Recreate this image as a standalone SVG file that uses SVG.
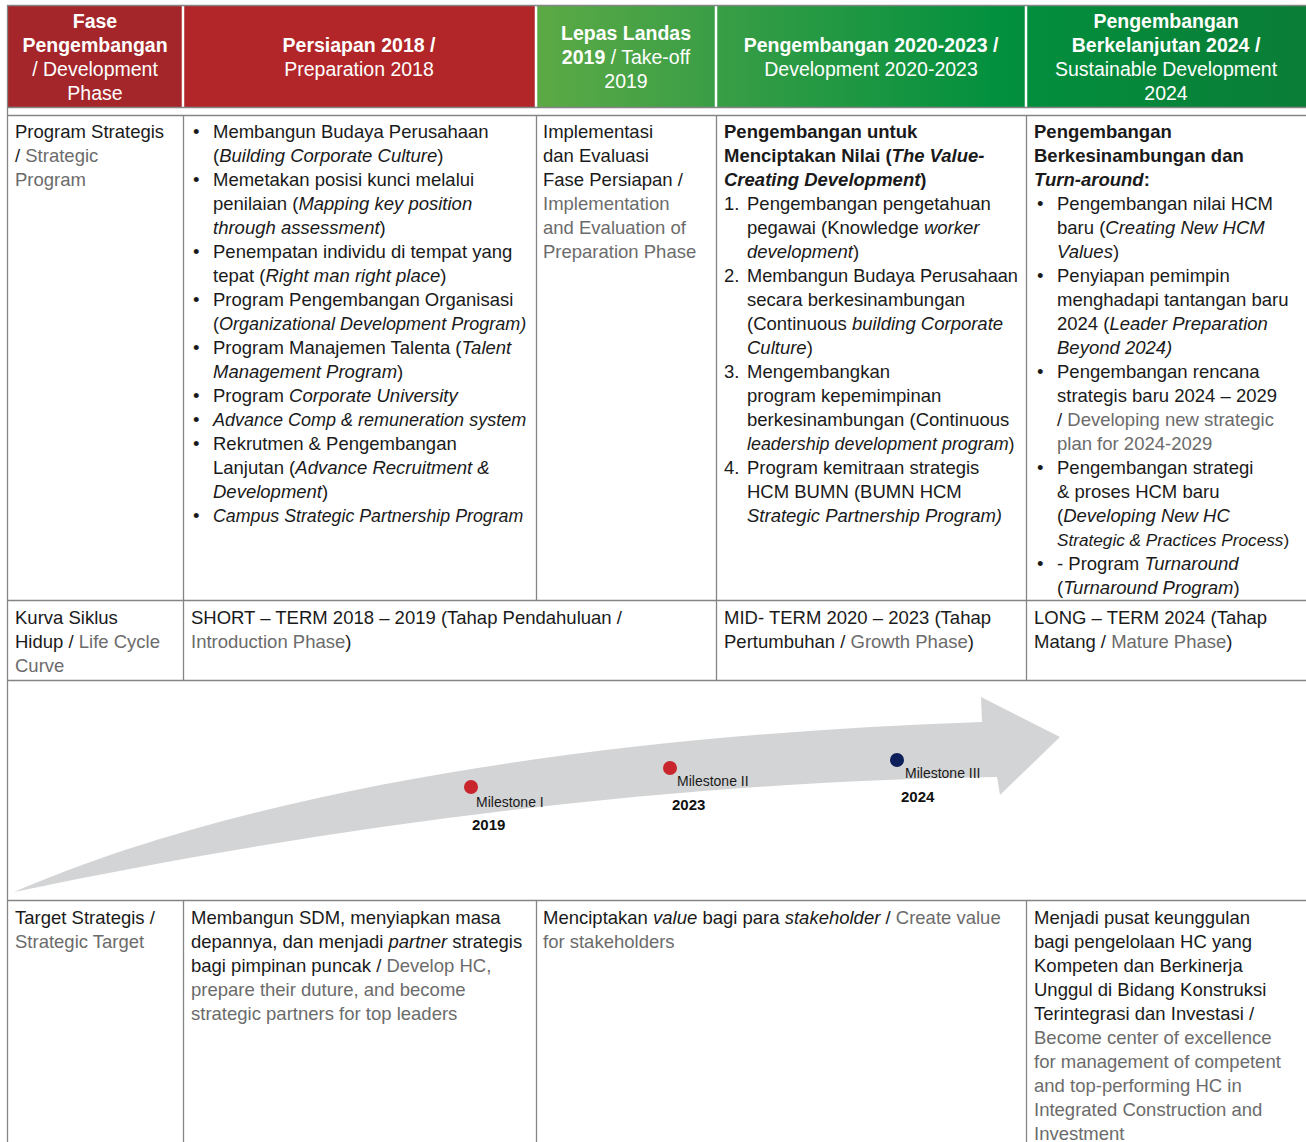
<svg xmlns="http://www.w3.org/2000/svg" width="1306" height="1142" viewBox="0 0 1306 1142">
<style>
.t{font-family:"Liberation Sans",Arial,sans-serif;font-size:18.5px;fill:#1a1a1a}
.g{fill:#6b6b6b}
.i{font-style:italic}
.b{font-weight:bold}
.h{font-family:"Liberation Sans",Arial,sans-serif;font-size:19.5px;fill:#ffffff;text-anchor:middle}
.m{font-family:"Liberation Sans",Arial,sans-serif;font-size:14px;fill:#1a1a1a}
.y{font-family:"Liberation Sans",Arial,sans-serif;font-size:15px;font-weight:bold;fill:#111}
.ln{stroke:#858585;stroke-width:1.3;fill:none}
.wl{stroke:#ffffff;stroke-width:2.5}
</style>
<defs>
<linearGradient id="gr" gradientUnits="userSpaceOnUse" x1="536" y1="0" x2="1306" y2="0">
<stop offset="0" stop-color="#5caa45"/>
<stop offset="0.23" stop-color="#3a9e46"/>
<stop offset="0.6" stop-color="#02903e"/>
<stop offset="1" stop-color="#0a7d36"/>
</linearGradient>
</defs>
<rect width="1306" height="1142" fill="#ffffff"/>

<g id="header">
<rect x="7" y="6" width="176" height="101" fill="#a5262a"/>
<rect x="183" y="6" width="353" height="101" fill="#b22528"/>
<rect x="536" y="6" width="770" height="101" fill="url(#gr)"/>
<line class="wl" x1="183" y1="6" x2="183" y2="107"/>
<line class="wl" x1="536" y1="6" x2="536" y2="107"/>
<line class="wl" x1="716" y1="6" x2="716" y2="107"/>
<line class="wl" x1="1026" y1="6" x2="1026" y2="107"/>
<g id="h-phase">
<text class="h" x="95" y="28"><tspan class="b">Fase</tspan></text>
<text class="h" x="95" y="52"><tspan class="b">Pengembangan</tspan></text>
<text class="h" x="95" y="76">/ Development</text>
<text class="h" x="95" y="100">Phase</text>
</g>
<g id="h-2018">
<text class="h" x="359" y="52"><tspan class="b">Persiapan 2018 /</tspan></text>
<text class="h" x="359" y="76">Preparation 2018</text>
</g>
<g id="h-2019">
<text class="h" x="626" y="40"><tspan class="b">Lepas Landas</tspan></text>
<text class="h" x="626" y="64"><tspan class="b">2019</tspan> / Take-off</text>
<text class="h" x="626" y="88">2019</text>
</g>
<g id="h-2020">
<text class="h" x="871" y="52"><tspan class="b">Pengembangan 2020-2023 /</tspan></text>
<text class="h" x="871" y="76">Development 2020-2023</text>
</g>
<g id="h-2024">
<text class="h" x="1166" y="28"><tspan class="b">Pengembangan</tspan></text>
<text class="h" x="1166" y="52"><tspan class="b">Berkelanjutan  2024 /</tspan></text>
<text class="h" x="1166" y="76">Sustainable Development</text>
<text class="h" x="1166" y="100">2024</text>
</g>
</g>

<g id="grid">
<line class="ln" x1="7" y1="5.5" x2="1306" y2="5.5"/>
<line class="ln" x1="7" y1="107.5" x2="1306" y2="107.5"/>
<line class="ln" x1="7" y1="115.5" x2="1306" y2="115.5"/>
<line class="ln" x1="7" y1="600.5" x2="1306" y2="600.5"/>
<line class="ln" x1="7" y1="680.5" x2="1306" y2="680.5"/>
<line class="ln" x1="7" y1="900.5" x2="1306" y2="900.5"/>
<line class="ln" x1="7.5" y1="5" x2="7.5" y2="1142"/>
<line class="ln" x1="183.5" y1="115" x2="183.5" y2="680"/>
<line class="ln" x1="536.5" y1="115" x2="536.5" y2="600"/>
<line class="ln" x1="716.5" y1="115" x2="716.5" y2="680"/>
<line class="ln" x1="1026.5" y1="115" x2="1026.5" y2="680"/>
<line class="ln" x1="183.5" y1="900" x2="183.5" y2="1142"/>
<line class="ln" x1="536.5" y1="900" x2="536.5" y2="1142"/>
<line class="ln" x1="1026.5" y1="900" x2="1026.5" y2="1142"/>
</g>

<g id="r1-label">
<text class="t" x="15" y="138">Program Strategis</text>
<text class="t" x="15" y="162">/ <tspan class="g">Strategic</tspan></text>
<text class="t g" x="15" y="186">Program</text>
</g>

<g id="r1-2018">
<text class="t" x="193" y="138">•</text>
<text class="t" x="193" y="186">•</text>
<text class="t" x="193" y="258">•</text>
<text class="t" x="193" y="306">•</text>
<text class="t" x="193" y="354">•</text>
<text class="t" x="193" y="402">•</text>
<text class="t" x="193" y="426">•</text>
<text class="t" x="193" y="450">•</text>
<text class="t" x="193" y="522">•</text>
<text class="t" x="213" y="138">Membangun Budaya Perusahaan</text>
<text class="t" x="213" y="162">(<tspan class="i">Building Corporate Culture</tspan>)</text>
<text class="t" x="213" y="186">Memetakan posisi kunci melalui</text>
<text class="t" x="213" y="210">penilaian (<tspan class="i">Mapping key position</tspan></text>
<text class="t" x="213" y="234"><tspan class="i">through assessment</tspan>)</text>
<text class="t" x="213" y="258">Penempatan individu di tempat yang</text>
<text class="t" x="213" y="282">tepat (<tspan class="i">Right man right place</tspan>)</text>
<text class="t" x="213" y="306">Program Pengembangan Organisasi</text>
<text class="t" x="213" y="330" style="font-size:18px">(<tspan class="i">Organizational Development Program)</tspan></text>
<text class="t" x="213" y="354">Program Manajemen Talenta (<tspan class="i">Talent</tspan></text>
<text class="t" x="213" y="378"><tspan class="i">Management Program</tspan>)</text>
<text class="t" x="213" y="402">Program <tspan class="i">Corporate University</tspan></text>
<text class="t i" x="213" y="426" style="font-size:18px">Advance Comp &amp; remuneration system</text>
<text class="t" x="213" y="450">Rekrutmen &amp; Pengembangan</text>
<text class="t" x="213" y="474">Lanjutan (<tspan class="i">Advance Recruitment &amp;</tspan></text>
<text class="t" x="213" y="498"><tspan class="i">Development</tspan>)</text>
<text class="t i" x="213" y="522" style="font-size:17.8px">Campus Strategic Partnership Program</text>
</g>

<g id="r1-2019">
<text class="t" x="543" y="138">Implementasi</text>
<text class="t" x="543" y="162">dan Evaluasi</text>
<text class="t" x="543" y="186">Fase Persiapan /</text>
<text class="t g" x="543" y="210">Implementation</text>
<text class="t g" x="543" y="234">and Evaluation of</text>
<text class="t g" x="543" y="258">Preparation Phase</text>
</g>

<g id="r1-2020">
<text class="t b" x="724" y="138">Pengembangan untuk</text>
<text class="t b" x="724" y="162">Menciptakan Nilai (<tspan class="i">The Value-</tspan></text>
<text class="t b" x="724" y="186"><tspan class="i">Creating Development</tspan>)</text>
<text class="t" x="724" y="210">1.</text>
<text class="t" x="724" y="282">2.</text>
<text class="t" x="724" y="378">3.</text>
<text class="t" x="724" y="474">4.</text>
<text class="t" x="747" y="210">Pengembangan pengetahuan</text>
<text class="t" x="747" y="234">pegawai (Knowledge <tspan class="i">worker</tspan></text>
<text class="t" x="747" y="258"><tspan class="i">development</tspan>)</text>
<text class="t" x="747" y="282" style="font-size:18.2px">Membangun Budaya Perusahaan</text>
<text class="t" x="747" y="306">secara berkesinambungan</text>
<text class="t" x="747" y="330">(Continuous <tspan class="i">building Corporate</tspan></text>
<text class="t" x="747" y="354"><tspan class="i">Culture</tspan>)</text>
<text class="t" x="747" y="378">Mengembangkan</text>
<text class="t" x="747" y="402">program kepemimpinan</text>
<text class="t" x="747" y="426">berkesinambungan (Continuous</text>
<text class="t" x="747" y="450" style="font-size:17.9px"><tspan class="i">leadership development program</tspan>)</text>
<text class="t" x="747" y="474">Program kemitraan strategis</text>
<text class="t" x="747" y="498">HCM BUMN (BUMN HCM</text>
<text class="t i" x="747" y="522">Strategic Partnership Program)</text>
</g>

<g id="r1-2024">
<text class="t b" x="1034" y="138">Pengembangan</text>
<text class="t b" x="1034" y="162">Berkesinambungan dan</text>
<text class="t b" x="1034" y="186"><tspan class="i">Turn-around</tspan>:</text>
<text class="t" x="1037" y="210">•</text>
<text class="t" x="1037" y="282">•</text>
<text class="t" x="1037" y="378">•</text>
<text class="t" x="1037" y="474">•</text>
<text class="t" x="1037" y="570">•</text>
<text class="t" x="1057" y="210">Pengembangan nilai HCM</text>
<text class="t" x="1057" y="234">baru (<tspan class="i">Creating New HCM</tspan></text>
<text class="t" x="1057" y="258"><tspan class="i">Values</tspan>)</text>
<text class="t" x="1057" y="282">Penyiapan pemimpin</text>
<text class="t" x="1057" y="306">menghadapi tantangan baru</text>
<text class="t" x="1057" y="330">2024 (<tspan class="i">Leader Preparation</tspan></text>
<text class="t i" x="1057" y="354">Beyond 2024)</text>
<text class="t" x="1057" y="378">Pengembangan rencana</text>
<text class="t" x="1057" y="402">strategis baru 2024 – 2029</text>
<text class="t" x="1057" y="426">/ <tspan class="g">Developing new strategic</tspan></text>
<text class="t g" x="1057" y="450">plan for 2024-2029</text>
<text class="t" x="1057" y="474">Pengembangan strategi</text>
<text class="t" x="1057" y="498">&amp; proses HCM baru</text>
<text class="t" x="1057" y="522">(<tspan class="i">Developing New HC</tspan></text>
<text class="t" x="1057" y="546" style="font-size:17.2px"><tspan class="i">Strategic &amp; Practices Process</tspan>)</text>
<text class="t" x="1057" y="570">- Program <tspan class="i">Turnaround</tspan></text>
<text class="t" x="1057" y="594">(<tspan class="i">Turnaround Program</tspan>)</text>
</g>

<g id="r2-label">
<text class="t" x="15" y="624">Kurva Siklus</text>
<text class="t" x="15" y="648">Hidup / <tspan class="g">Life Cycle</tspan></text>
<text class="t g" x="15" y="672">Curve</text>
</g>
<g id="r2-short">
<text class="t" x="191" y="624">SHORT – TERM 2018 – 2019 (Tahap Pendahuluan /</text>
<text class="t" x="191" y="648"><tspan class="g">Introduction Phase</tspan>)</text>
</g>
<g id="r2-mid">
<text class="t" x="724" y="624">MID- TERM 2020 – 2023 (Tahap</text>
<text class="t" x="724" y="648">Pertumbuhan / <tspan class="g">Growth Phase</tspan>)</text>
</g>
<g id="r2-long">
<text class="t" x="1034" y="624">LONG – TERM 2024 (Tahap</text>
<text class="t" x="1034" y="648">Matang / <tspan class="g">Mature Phase</tspan>)</text>
</g>

<g id="connectors">
<path id="timeline-arrow" d="M14,892 C250,790 600,735 982,722 L981,697 L1060,737 L1000,795 L997,777 C680,781 330,825 14,892 Z" fill="#d3d4d5"/>
</g>

<g id="milestone-1">
<circle cx="471" cy="787" r="7" fill="#c8252c"/>
<text class="m" x="476" y="807">Milestone I</text>
<text class="y" x="472" y="830">2019</text>
</g>
<g id="milestone-2">
<circle cx="670" cy="768" r="7" fill="#c8252c"/>
<text class="m" x="677" y="786">Milestone II</text>
<text class="y" x="672" y="810">2023</text>
</g>
<g id="milestone-3">
<circle cx="897" cy="760" r="7" fill="#0d1f5a"/>
<text class="m" x="905" y="778">Milestone III</text>
<text class="y" x="901" y="802">2024</text>
</g>

<g id="r4-label">
<text class="t" x="15" y="924">Target Strategis /</text>
<text class="t g" x="15" y="948">Strategic Target</text>
</g>
<g id="r4-short">
<text class="t" x="191" y="924">Membangun SDM, menyiapkan masa</text>
<text class="t" x="191" y="948">depannya, dan menjadi <tspan class="i">partner</tspan> strategis</text>
<text class="t" x="191" y="972">bagi pimpinan puncak / <tspan class="g">Develop HC,</tspan></text>
<text class="t g" x="191" y="996">prepare their duture, and become</text>
<text class="t g" x="191" y="1020">strategic partners for top leaders</text>
</g>
<g id="r4-mid">
<text class="t" x="543" y="924">Menciptakan <tspan class="i">value</tspan> bagi para <tspan class="i">stakeholder</tspan> / <tspan class="g">Create value</tspan></text>
<text class="t g" x="543" y="948">for stakeholders</text>
</g>
<g id="r4-long">
<text class="t" x="1034" y="924">Menjadi pusat keunggulan</text>
<text class="t" x="1034" y="948">bagi pengelolaan HC yang</text>
<text class="t" x="1034" y="972">Kompeten dan Berkinerja</text>
<text class="t" x="1034" y="996">Unggul di Bidang Konstruksi</text>
<text class="t" x="1034" y="1020">Terintegrasi dan Investasi /</text>
<text class="t g" x="1034" y="1044">Become center of excellence</text>
<text class="t g" x="1034" y="1068">for management of competent</text>
<text class="t g" x="1034" y="1092">and top-performing HC in</text>
<text class="t g" x="1034" y="1116">Integrated Construction and</text>
<text class="t g" x="1034" y="1140">Investment</text>
</g>
</svg>
